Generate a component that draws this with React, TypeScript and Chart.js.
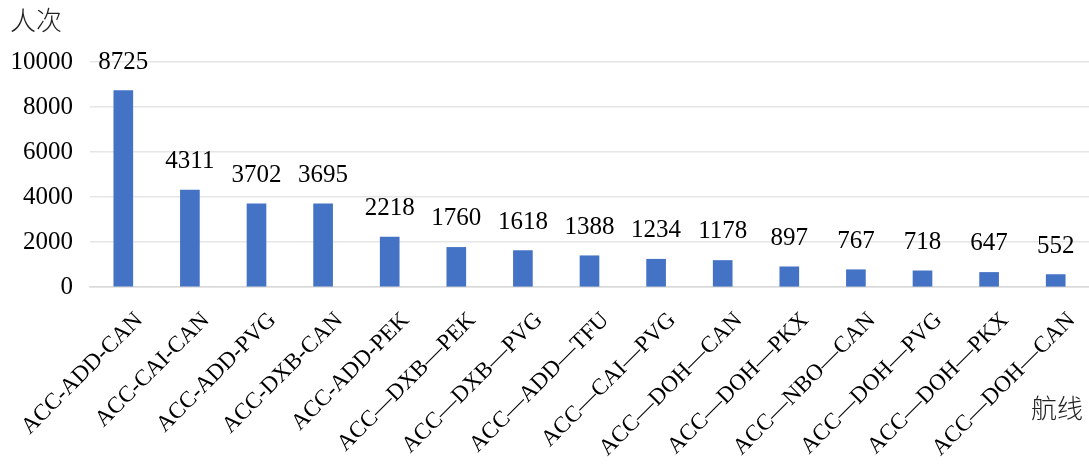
import React, { useEffect, useRef } from "react";
import { Chart, registerables } from "chart.js";

Chart.register(...registerables);

const categories: string[] = [
  "ACC-ADD-CAN",
  "ACC-CAI-CAN",
  "ACC-ADD-PVG",
  "ACC-DXB-CAN",
  "ACC-ADD-PEK",
  "ACC—DXB—PEK",
  "ACC—DXB—PVG",
  "ACC—ADD—TFU",
  "ACC—CAI—PVG",
  "ACC—DOH—CAN",
  "ACC—DOH—PKX",
  "ACC—NBO—CAN",
  "ACC—DOH—PVG",
  "ACC—DOH—PKX",
  "ACC—DOH—CAN",
];

const passengers: number[] = [8725, 4311, 3702, 3695, 2218, 1760, 1618, 1388, 1234, 1178, 897, 767, 718, 647, 552];

const yMin = 0;
const yMax = 10000;
const yStep = 2000;

const yTitle = "人次";
const xTitle = "航线";

const SERIF = '"Liberation Serif", "Times New Roman", serif';
const CJK = '"Noto Sans CJK SC", sans-serif';

export default function App() {
  const ref = useRef<HTMLCanvasElement | null>(null);

  useEffect(() => {
    document.body.style.margin = "0";
    const canvas = ref.current;
    if (!canvas) return;

    const valueLabels = {
      id: "valueLabels",
      afterDatasetsDraw(chart: any) {
        const ctx = chart.ctx;
        const meta = chart.getDatasetMeta(0);
        ctx.save();
        ctx.font = `25px ${SERIF}`;
        ctx.fillStyle = "#000";
        ctx.textAlign = "center";
        ctx.textBaseline = "alphabetic";
        meta.data.forEach((bar: any, i: number) => {
          ctx.fillText(String(passengers[i]), bar.x, bar.y - 22);
        });
        ctx.restore();
      },
    };

    const axisTitles = {
      id: "axisTitles",
      afterDraw(chart: any) {
        const ctx = chart.ctx;
        const area = chart.chartArea;
        ctx.save();
        ctx.font = `300 26px ${CJK}`;
        ctx.fillStyle = "#222";
        ctx.textBaseline = "top";
        ctx.textAlign = "left";
        ctx.fillText(yTitle, 10, 7);
        ctx.textAlign = "right";
        ctx.fillText(xTitle, area.right - 6, area.bottom + 108);
        ctx.restore();
      },
    };

    const chart = new Chart(canvas, {
      type: "bar",
      data: {
        labels: categories,
        datasets: [
          {
            data: passengers,
            backgroundColor: "#4472C4",
            barThickness: 19,
          },
        ],
      },
      options: {
        animation: false,
        responsive: false,
        layout: { padding: { left: 10, right: 0, top: 62, bottom: 0 } },
        plugins: {
          legend: { display: false },
          tooltip: { enabled: false },
        },
        scales: {
          x: {
            grid: { display: false, drawTicks: false },
            border: { display: true, color: "#d9d9d9", width: 1.5 },
            ticks: {
              color: "#000",
              font: { family: SERIF, size: 23 },
              minRotation: 45,
              maxRotation: 45,
              autoSkip: false,
              padding: 20,
              labelOffset: 16,
            },
            afterFit(scale: any) {
              scale.height = 181;
              scale.paddingLeft = 0;
              scale.paddingRight = 0;
            },
          },
          y: {
            min: yMin,
            max: yMax,
            grid: { color: "#e6e6e6", lineWidth: 1.5, drawTicks: false },
            border: { display: false },
            ticks: {
              stepSize: yStep,
              color: "#000",
              font: { family: SERIF, size: 25 },
              padding: 17,
              callback: (v: any) => String(v),
            },
            afterFit(scale: any) {
              scale.width = 80;
              scale.paddingTop = 0;
              scale.paddingBottom = 0;
            },
          },
        },
      },
      plugins: [valueLabels, axisTitles],
    });

    return () => chart.destroy();
  }, []);

  return (
    <div style={{ position: "absolute", left: 0, top: 0, width: 1089, height: 468 }}>
      <canvas ref={ref} width={1089} height={468} style={{ width: 1089, height: 468 }} />
    </div>
  );
}
